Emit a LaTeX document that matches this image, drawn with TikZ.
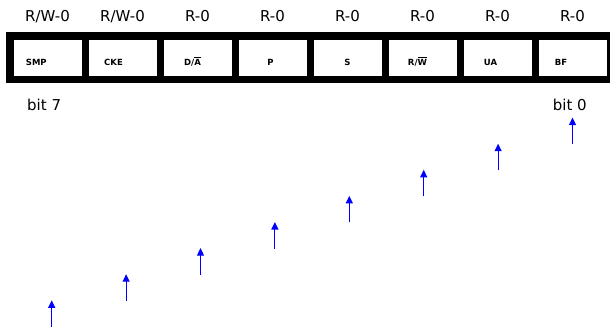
\documentclass[tikz,border=0pt]{standalone}
\usepackage{fontspec}
\setmainfont{DejaVu Sans}
\usetikzlibrary{arrows.meta}
\begin{document}
\begin{tikzpicture}[x=1pt,y=-1pt,
  bitbox/.style={fill=white,draw=none,minimum width=68.4pt,minimum height=36.7pt,inner sep=0pt,anchor=north west},
  bitname/.style={font=\fontsize{8.5}{10}\selectfont\bfseries,anchor=base,inner sep=0pt},
  access/.style={font=\fontsize{15}{18}\selectfont,anchor=base,inner sep=0pt},
  bitno/.style={font=\fontsize{15}{18}\selectfont,anchor=base west,inner sep=0pt},
  ptr/.style={draw=blue,line width=1.1pt,-{Triangle[width=7pt,length=7.5pt]},fill=blue}]
\useasboundingbox (0,0) rectangle (610,327);
\begin{scope}
\clip (0,0) rectangle (610,327);
\fill[black] (6,31.7) rectangle (620,83.3);
\end{scope}
% boxes
\foreach \i in {0,...,7}{
  \node[bitbox] (b\i) at ({13.3+75*\i},39.3) {};
}
% access labels
\node[access] (a0) at (47.5,21) {R/W-0};
\node[access] (a1) at (122.5,21) {R/W-0};
\node[access] (a2) at (197.5,21) {R-0};
\node[access] (a3) at (272.5,21) {R-0};
\node[access] (a4) at (347.5,21) {R-0};
\node[access] (a5) at (422.5,21) {R-0};
\node[access] (a6) at (497.5,21) {R-0};
\node[access] (a7) at (572.5,21) {R-0};
% bit names
\node[bitname] (n0) at (36.3,65) {SMP};
\node[bitname] (n1) at (113.5,65) {CKE};
\node[bitname] (n2) at (192.5,65) {D/$\overline{\hbox{A}}$};
\node[bitname] (n3) at (270.5,65) {P};
\node[bitname] (n4) at (347.5,65) {S};
\node[bitname] (n5) at (417.5,65) {R/$\overline{\hbox{W}}$};
\node[bitname] (n6) at (490.5,65) {UA};
\node[bitname] (n7) at (561,65) {BF};
% bit numbers
\node[bitno] (bit7) at (27,110.7) {bit 7};
\node[bitno] (bit0) at (552.7,110.7) {bit 0};
% arrows
\foreach \i in {0,...,7}{
  \coordinate (s\i) at ({51.7+74.4*\i},{326.8-26.1*\i});
  \coordinate (t\i) at ({51.7+74.4*\i},{300.3-26.1*\i});
  \draw[ptr] (s\i) -- (t\i);
}
\end{tikzpicture}
\end{document}
